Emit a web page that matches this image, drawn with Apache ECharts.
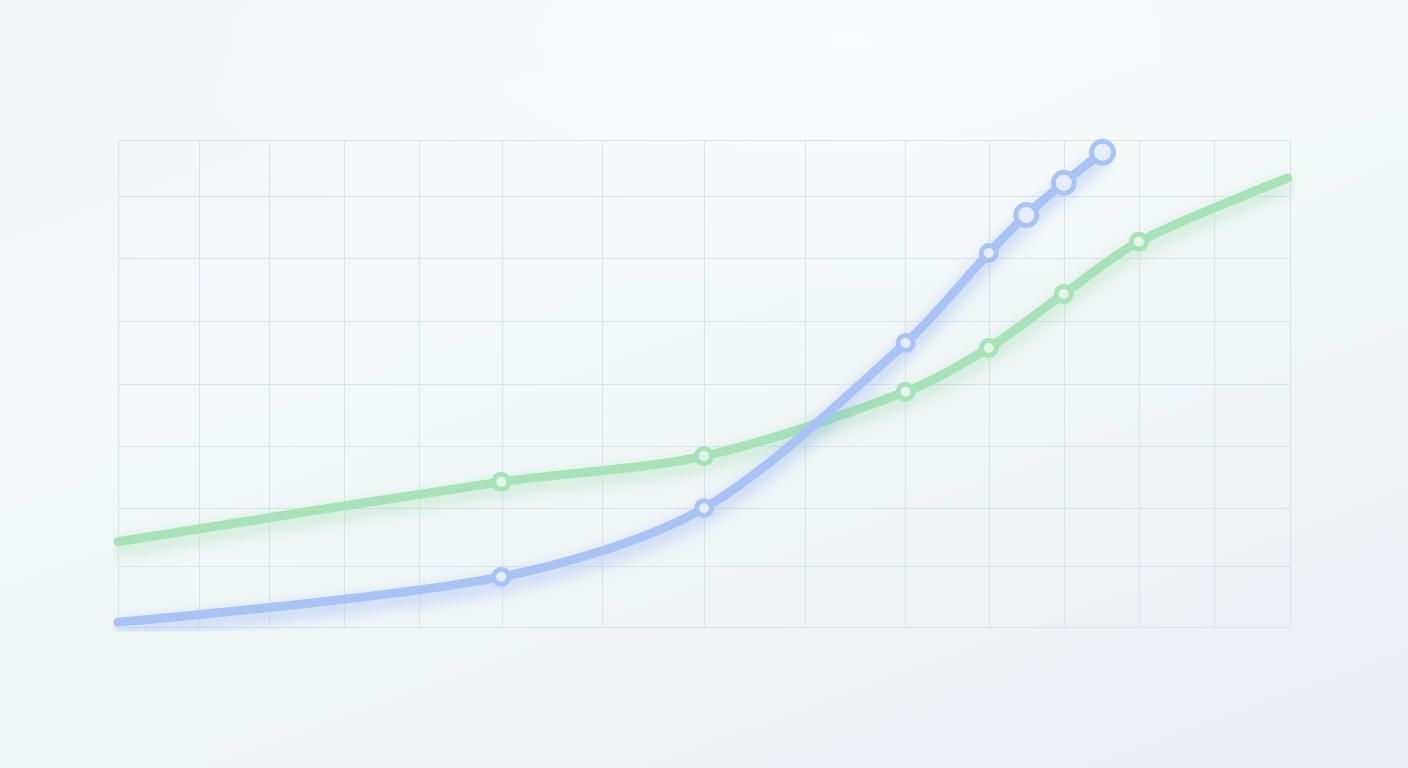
<!DOCTYPE html>
<html>
<head>
<meta charset="utf-8">
<title>Growth curves</title>
<script src="https://cdn.jsdelivr.net/npm/echarts@6/dist/echarts.min.js"></script>
<style>
  html, body {
    margin: 0;
    padding: 0;
    width: 1408px;
    height: 768px;
    overflow: hidden;
  }
  body {
    background:
      radial-gradient(ellipse 700px 260px at 850px 40px, rgba(250,251,252,0.9), rgba(250,251,252,0)),
      linear-gradient(160deg, #f2f4f7 0%, #f4f7f9 25%, #f1f7f7 50%, #eff3f6 75%, #ebeef4 100%);
  }
  #chart {
    width: 1408px;
    height: 768px;
  }
</style>
</head>
<body>
<div id="chart"></div>
<script>
// grid positions (irregular columns, nearly even rows)
const xGrid = [0, 6.9, 12.9, 19.3, 25.7, 32.8, 41.3, 50, 58.6, 67.2, 74.3, 80.7, 87.1, 93.5, 100]
const yGrid = [0, 12.5, 24.4, 37.2, 49.9, 62.8, 75.8, 88.5, 100]

// blue series
const blueX = [0, 32.7, 50, 67.2, 74.3, 77.5, 80.7, 84.0]
const blueY = [1.0, 10.3, 24.4, 58.3, 76.8, 84.6, 91.2, 97.5]
const blueSize = [0, 15, 15, 15, 15, 21, 21, 22]

// green series
const greenX = [0, 32.7, 50, 67.2, 74.3, 80.7, 87.1, 99.8]
const greenY = [17.5, 29.8, 35.1, 48.3, 57.3, 68.4, 79.1, 92.2]
const greenSize = [0, 15, 15, 15, 15, 15, 15, 0]

const BLUE = '#a9c4f4'
const GREEN = '#a7e2b8'

function buildData(xs, ys, sizes) {
  return xs.map((x, i) => ({
    value: [x, ys[i]],
    symbolSize: sizes[i],
    symbol: sizes[i] ? 'circle' : 'none'
  }))
}

function lineSeries(name, color, fill, glow, data) {
  return {
    name,
    type: 'line',
    smooth: 0.3,
    showAllSymbol: true,
    data,
    lineStyle: {
      color,
      width: 9,
      cap: 'round',
      shadowColor: glow,
      shadowBlur: 16,
      shadowOffsetY: 7
    },
    itemStyle: {
      color: fill,
      borderColor: color,
      borderWidth: 5
    },
    emphasis: { disabled: true },
    z: 3
  }
}

const chart = echarts.init(document.getElementById('chart'), null, { renderer: 'canvas' })

const gridLine = { show: true, lineStyle: { color: '#dde3ea', width: 1 } }

chart.setOption({
  animation: false,
  grid: { left: 118, right: 118, top: 140, bottom: 141, containLabel: false },
  xAxis: {
    type: 'value',
    min: 0,
    max: 100,
    axisLine: { show: false },
    axisTick: { show: false, customValues: xGrid },
    axisLabel: { show: false, customValues: xGrid },
    splitLine: gridLine
  },
  yAxis: {
    type: 'value',
    min: 0,
    max: 100,
    axisLine: { show: false },
    axisTick: { show: false, customValues: yGrid },
    axisLabel: { show: false, customValues: yGrid },
    splitLine: gridLine
  },
  series: [
    lineSeries('green', GREEN, '#e4f5ec', 'rgba(140,215,160,0.55)', buildData(greenX, greenY, greenSize)),
    lineSeries('blue', BLUE, '#e3edfb', 'rgba(120,160,245,0.55)', buildData(blueX, blueY, blueSize))
  ]
})
</script>
</body>
</html>
